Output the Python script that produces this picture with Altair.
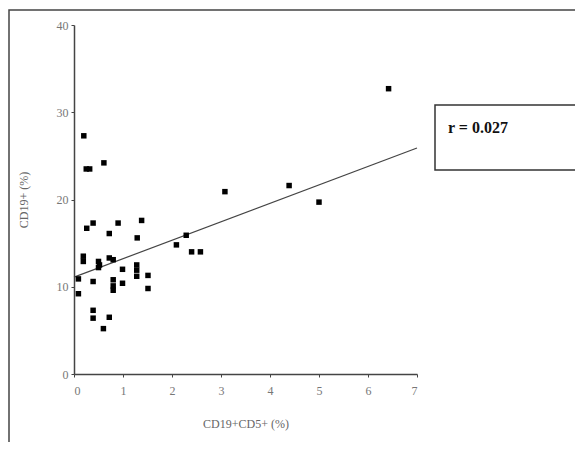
import altair as alt
import pandas as pd

# Scatter values
cd19cd5 = [6.42, 0.20, 0.25, 0.32, 0.61, 3.08, 4.39, 5.00, 0.26, 0.39, 0.72, 0.90,
           1.38, 1.29, 2.09, 2.29, 2.40, 2.58, 0.19, 0.19, 0.50, 0.50, 0.52, 0.72,
           0.80, 0.99, 1.28, 1.28, 1.28, 1.51, 1.51, 0.09, 0.09, 0.39, 0.80, 0.80,
           0.80, 0.99, 0.39, 0.39, 0.72, 0.60]
cd19 = [32.7, 27.3, 23.5, 23.5, 24.2, 20.9, 21.6, 19.7, 16.7, 17.3, 16.1, 17.3,
        17.6, 15.6, 14.8, 15.9, 14.0, 14.0, 13.5, 12.9, 12.9, 12.2, 12.5, 13.3,
        13.1, 12.0, 12.5, 11.9, 11.2, 11.3, 9.8, 10.9, 9.2, 10.6, 10.8, 10.1,
        9.6, 10.4, 7.3, 6.4, 6.5, 5.2]

# Regression line end points
fit_x = [0, 7]
fit_y = [11.1, 25.9]

x_ticks = [0, 1, 2, 3, 4, 5, 6, 7]
y_ticks = [0, 10, 20, 30, 40]
r_label = ["r = 0.027"]

pts = pd.DataFrame({"x": cd19cd5, "y": cd19})
fit = pd.DataFrame({"x": fit_x, "y": fit_y})

W, H = 343, 349
xs = alt.Scale(domain=[0, 7], nice=False, zero=False)
ys = alt.Scale(domain=[0, 40], nice=False)

axis_common = dict(
    domainColor="#444444", domainWidth=1.5, tickColor="#444444", tickSize=3,
    labelFont="Liberation Serif", labelFontSize=12, labelColor="#777777",
    titleFont="Liberation Serif", titleFontSize=12, titleColor="#666666",
    titleFontWeight="normal", grid=False,
)

frame = alt.Chart(pd.DataFrame({"a": [0]})).mark_rect(
    fill="white", fillOpacity=0, stroke="#444444", strokeWidth=1.5
).encode(
    x=alt.value(-65), x2=alt.value(W + 170),
    y=alt.value(-15), y2=alt.value(H + 120),
)

points = alt.Chart(pts).mark_square(size=30, color="black", opacity=1).encode(
    x=alt.X("x:Q", scale=xs, title="CD19+CD5+ (%)",
            axis=alt.Axis(values=x_ticks, labelPadding=8, titlePadding=22, **axis_common)),
    y=alt.Y("y:Q", scale=ys, title="CD19+ (%)",
            axis=alt.Axis(values=y_ticks, labelPadding=3, titlePadding=26, **axis_common)),
)

line = alt.Chart(fit).mark_line(color="#444444", strokeWidth=1.2).encode(
    x=alt.X("x:Q", scale=xs), y=alt.Y("y:Q", scale=ys)
)

box = alt.Chart(pd.DataFrame({"a": [0]})).mark_rect(
    fill="white", stroke="#333333", strokeWidth=1.5
).encode(
    x=alt.value(361), x2=alt.value(504), y=alt.value(80), y2=alt.value(145)
)

txt = alt.Chart(pd.DataFrame({"t": r_label})).mark_text(
    font="Liberation Serif", fontSize=16, fontWeight="bold", color="#111111",
    align="left", baseline="alphabetic"
).encode(x=alt.value(374), y=alt.value(108), text="t:N")

chart = alt.layer(frame, line, points, box, txt).properties(
    width=W, height=H,
    autosize=alt.AutoSizeParams(type="none"),
    padding={"left": 66, "top": 17, "right": 158, "bottom": 68},
).configure(background="white").configure_view(stroke=None)

chart.save("out.html", embed_options={"renderer": "svg", "actions": False})
